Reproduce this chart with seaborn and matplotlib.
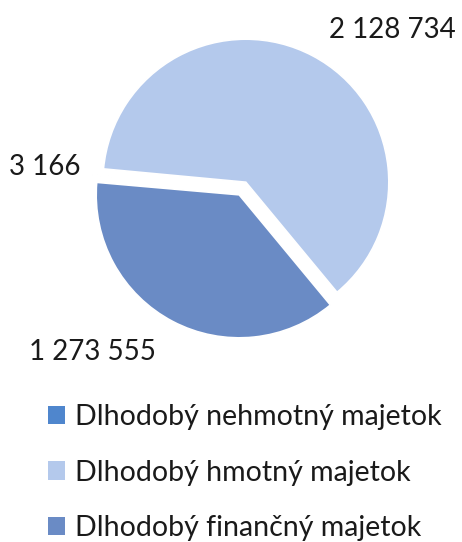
"""Pie chart of long-term assets (dlhodobý majetok)."""

import matplotlib

matplotlib.use("Agg")

import matplotlib.pyplot as plt
import seaborn as sns
from matplotlib.patches import Patch

categories = [
    "Dlhodobý nehmotný majetok",
    "Dlhodobý hmotný majetok",
    "Dlhodobý finančný majetok",
]
values = [3166, 2128734, 1273555]
value_labels = ["3 166", "2 128 734", "1 273 555"]
colors = ["#4f86cd", "#b4c9ec", "#6a8bc5"]

sns.set_theme(style="white")
plt.rcParams["font.family"] = ["Lato", "DejaVu Sans"]

W, H, DPI = 462, 542, 100
R_PX = 143.0
CX, CY = 242.5, 188.5

fig = plt.figure(figsize=(W / DPI, H / DPI), dpi=DPI)
ax = fig.add_axes([0, 0, 1, 1])

wedges, _ = ax.pie(
    values,
    colors=colors,
    startangle=175,
    counterclock=False,
    explode=[0.05, 0.05, 0.05],
    radius=1.0,
    wedgeprops={"linewidth": 1.2, "edgecolor": "white"},
)

ax.set_xlim(-CX / R_PX, (W - CX) / R_PX)
ax.set_ylim(-(H - CY) / R_PX, CY / R_PX)
ax.set_aspect("equal")
ax.axis("off")

# data label positions (pie radius units)
label_pos = [(-1.38, 0.15), (1.045, 1.11), (-1.05, -1.145)]
for text, (x, y) in zip(value_labels, label_pos):
    ax.text(x, y, text, ha="center", va="center", fontsize=20, color="#1a1a1a")

handles = [Patch(facecolor=c, edgecolor="none") for c in colors]
fig.legend(
    handles,
    categories,
    loc="upper left",
    bbox_to_anchor=(22 / W, 1 - 378 / H),
    frameon=False,
    fontsize=20.5,
    handlelength=0.6,
    handleheight=0.6,
    handletextpad=0.35,
    labelspacing=1.05,
    labelcolor="#1a1a1a",
)

fig.savefig("out.png", dpi=DPI)
